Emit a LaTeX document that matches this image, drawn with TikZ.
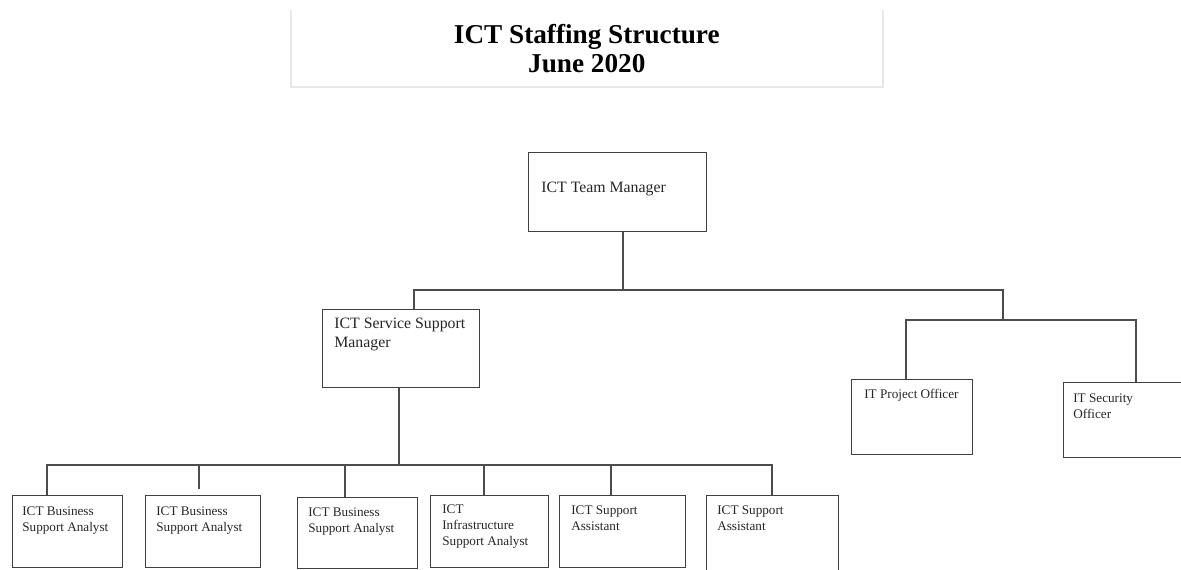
\documentclass[tikz,border=0pt]{standalone}
\usepackage{fontspec}
\setmainfont{Liberation Serif}

\begin{document}
\begin{tikzpicture}[x=0.02cm,y=-0.02cm,
  post/.style={draw=black!75, line width=0.7pt, anchor=north west, inner sep=0pt},
  postlabel/.style={anchor=north west, inner sep=0pt, align=left, text=black!85,
    font=\fontsize{7.5}{9.1}\selectfont},
  biglabel/.style={postlabel, font=\fontsize{9}{10.8}\selectfont},
  link/.style={draw=black!70, line width=0.7pt},
  heading/.style={anchor=north west, inner sep=0pt, align=center,
    minimum width=11.82cm, minimum height=1.52cm,
    font=\fontsize{15.5}{16.4}\selectfont\bfseries},
  frame/.style={draw=black!9, line width=1.1pt}]
\useasboundingbox (0,0) rectangle (1181,570);

% title
\node [heading] (title) at (291,10) {ICT Staffing Structure\\June 2020};
\draw [frame] (title.north west) |- (title.south east) -- (title.north east);

% managers
\node [post, minimum width=3.56cm, minimum height=1.58cm] (mgr) at (528,152) {};
\node [biglabel] (mgr-txt) at ([shift={(13,30)}]mgr.north west) {ICT Team Manager};

\node [post, minimum width=3.14cm, minimum height=1.56cm] (ssm) at (322,309) {};
\node [biglabel] (ssm-txt) at ([shift={(12,9)}]ssm.north west) {ICT Service Support\\Manager};

% officers
\node [post, minimum width=2.42cm, minimum height=1.50cm] (ipo) at (851,379) {};
\node [postlabel] (ipo-txt) at ([shift={(13,10)}]ipo.north west) {IT Project Officer};

\node [post, minimum width=2.74cm, minimum height=1.50cm] (iso) at (1063,382) {};
\node [postlabel] (iso-txt) at ([shift={(10,11)}]iso.north west) {IT Security\\Officer};

% support staff
\node [post, minimum width=2.20cm, minimum height=1.44cm] (ba1) at (12,495) {};
\node [postlabel] (ba1-txt) at ([shift={(10,11)}]ba1.north west) {ICT Business\\Support Analyst};

\node [post, minimum width=2.30cm, minimum height=1.44cm] (ba2) at (145,495) {};
\node [postlabel] (ba2-txt) at ([shift={(11,11)}]ba2.north west) {ICT Business\\Support Analyst};

\node [post, minimum width=2.40cm, minimum height=1.42cm] (ba3) at (297,497) {};
\node [postlabel] (ba3-txt) at ([shift={(11,10)}]ba3.north west) {ICT Business\\Support Analyst};

\node [post, minimum width=2.36cm, minimum height=1.44cm] (isa) at (430,495) {};
\node [postlabel] (isa-txt) at ([shift={(12,9)}]isa.north west) {ICT\\Infrastructure\\Support Analyst};

\node [post, minimum width=2.52cm, minimum height=1.44cm] (sa1) at (559,495) {};
\node [postlabel] (sa1-txt) at ([shift={(12,10)}]sa1.north west) {ICT Support\\Assistant};

\node [post, minimum width=2.64cm, minimum height=1.60cm] (sa2) at (706,495) {};
\node [postlabel] (sa2-txt) at ([shift={(11,10)}]sa2.north west) {ICT Support\\Assistant};

% junctions
\coordinate (tm-j) at (623,290);
\coordinate (top-l) at (414,290);
\coordinate (top-r) at (1003,290);
\coordinate (prj-j) at (1003,320);
\coordinate (prj-l) at (906,320);
\coordinate (prj-r) at (1136,320);
\coordinate (ssm-j) at (399,465);
\coordinate (bot-l) at (47,465);
\coordinate (bot-r) at (772,465);
\coordinate (ba2-j) at (199,465);
\coordinate (ba3-j) at (345,465);
\coordinate (isa-j) at (484,465);
\coordinate (sa1-j) at (611,465);

% lines
\draw [link] (mgr.south -| tm-j) -- (tm-j);
\draw [link] (ssm.north -| top-l) -- (top-l) -- (top-r) -- (prj-j);
\draw [link] (ipo.north -| prj-l) -- (prj-l) -- (prj-r) -- (iso.north -| prj-r);
\draw [link] (ssm.south -| ssm-j) -- (ssm-j);
\draw [link] (ba1.north -| bot-l) -- (bot-l) -- (bot-r) -- (sa2.north -| bot-r);
\draw [link, shorten >=3.4pt] (ba2-j) -- (ba2.north -| ba2-j);
\draw [link] (ba3-j) -- (ba3.north -| ba3-j);
\draw [link] (isa-j) -- (isa.north -| isa-j);
\draw [link] (sa1-j) -- (sa1.north -| sa1-j);
\end{tikzpicture}
\end{document}
